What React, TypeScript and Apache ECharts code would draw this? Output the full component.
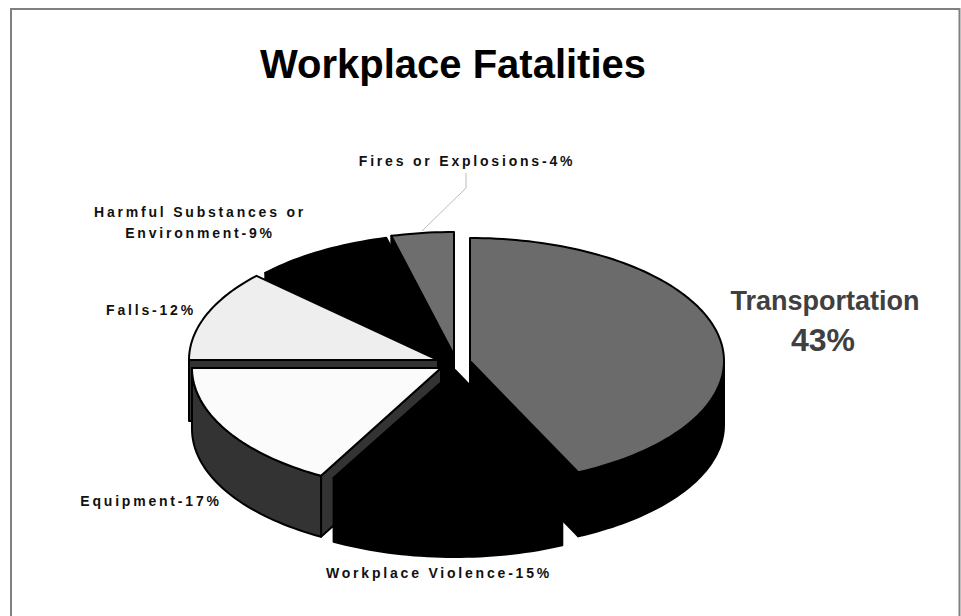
import React, { useEffect, useRef } from "react";
import * as echarts from "echarts";

const categories = ["Transportation", "Workplace Violence", "Equipment", "Falls", "Harmful Substances or Environment", "Fires or Explosions"];
const percents = [43, 15, 17, 12, 9, 4];
const titleText = "Workplace Fatalities";

// Per-slice appearance: top colour, wall colour, exploded centre, radius, wall depth.
const topColors = ["#6b6b6b", "#000000", "#fbfbfb", "#eeeeee", "#000000", "#6e6e6e"];
const wallColors = ["#000000", "#000000", "#333333", "#333333", "#000000", "#000000"];
const centers: [number, number][] = [[470, 361], [455, 370], [441, 368], [438, 360], [449, 357], [454, 355]];
const radiiX = [254, 252, 249, 249, 252, 252];
const depths = [64, 64, 61, 61, 64, 64];
const RY = 123;
const total = percents.reduce((a, b) => a + b, 0);

const startAngle = (i: number) => percents.slice(0, i).reduce((a, b) => a + b, 0) / total * Math.PI * 2;
const rim = (i: number, a: number, dy = 0): [number, number] => [centers[i][0] + radiiX[i] * Math.sin(a), centers[i][1] - RY * Math.cos(a) + dy];
const arc = (i: number, a0: number, a1: number, dy = 0) => {
  const n = Math.max(2, Math.ceil((a1 - a0) / (Math.PI / 120)));
  const pts: [number, number][] = [];
  for (let k = 0; k <= n; k++) pts.push(rim(i, a0 + (a1 - a0) * k / n, dy));
  return pts;
};

const renderItem = (_: any, api: any) => {
  const i = api.value(0) as number;
  const c = centers[i];
  const d = depths[i];
  const a0 = startAngle(i);
  const a1 = a0 + api.value(1) / total * Math.PI * 2;
  const stroke = "#000";
  const wallStyle = { fill: wallColors[i], stroke, lineWidth: 2, lineJoin: "round" };
  const children: any[] = [];
  const face = (a: number) => {
    const p = rim(i, a);
    children.push({ type: "polygon", shape: { points: [c, p, [p[0], p[1] + d], [c[0], c[1] + d]] }, style: wallStyle });
  };
  // Only the radial faces turned towards the viewer are drawn.
  if (a0 > Math.PI) face(a0);
  if (a1 < Math.PI) face(a1);
  const lo = Math.max(a0, Math.PI / 2), hi = Math.min(a1, Math.PI * 1.5);
  if (hi > lo) {
    const top = arc(i, lo, hi);
    const bottom = arc(i, lo, hi, d).reverse();
    children.push({ type: "polygon", shape: { points: [...top, ...bottom] }, style: wallStyle });
  }
  children.push({
    type: "polygon",
    shape: { points: [c, ...arc(i, a0, a1)] },
    style: { fill: topColors[i], stroke, lineWidth: 2, lineJoin: "round" },
  });
  return { type: "group", children };
};

const smallLabel = (text: string, x: number, y: number) => ({
  type: "text", x, y, z: 5,
  style: { text, x: 0, y: 0, align: "center", verticalAlign: "middle", fill: "#111", font: 'bold 14px "Liberation Sans"' },
});

export default function App() {
  const ref = useRef<HTMLDivElement>(null);
  useEffect(() => {
    const chart = echarts.init(ref.current!, null, { renderer: "svg" });
    chart.setOption({
      animation: false,
      backgroundColor: "#fff",
      series: [{
        type: "custom",
        coordinateSystem: "none",
        silent: true,
        clip: false,
        renderItem,
        data: percents.map((p, i) => [i, p]).reverse(),
      }],
      graphic: [
        { type: "polyline", z: 1, shape: { points: [[11, 616], [11, 9], [959.5, 9], [959.5, 616]] }, style: { fill: "none", stroke: "#808080", lineWidth: 2 } },
        { type: "polyline", z: 1, shape: { points: [[466, 173], [466, 188], [422, 231]] }, style: { fill: "none", stroke: "#bbb", lineWidth: 1 } },
        { type: "text", x: 453, y: 64, style: { text: titleText, x: 0, y: 0, align: "center", verticalAlign: "middle", fill: "#000", font: 'bold 40px "Liberation Sans"' } },
        smallLabel(`${categories[5]}-${percents[5]}%`, 467, 161),
        smallLabel("Harmful Substances or", 200, 212),
        smallLabel(`Environment-${percents[4]}%`, 200, 233),
        smallLabel(`${categories[3]}-${percents[3]}%`, 151, 310),
        smallLabel(`${categories[2]}-${percents[2]}%`, 151, 501),
        smallLabel(`${categories[1]}-${percents[1]}%`, 439, 573),
        { type: "text", x: 825, y: 301, style: { text: categories[0], x: 0, y: 0, align: "center", verticalAlign: "middle", fill: "#404040", font: 'bold 27px "Liberation Sans"' } },
        { type: "text", x: 823, y: 340, style: { text: `${percents[0]}%`, x: 0, y: 0, align: "center", verticalAlign: "middle", fill: "#404040", font: 'bold 32px "Liberation Sans"' } },
      ],
    });
    ref.current!.querySelectorAll("text").forEach((t) => {
      const s = t.getAttribute("style") || "";
      if (s.includes("14px")) (t as any).style.letterSpacing = "2.8px";
    });
    return () => chart.dispose();
  }, []);
  return <div ref={ref} style={{ width: 961, height: 616, position: "absolute", left: 0, top: 0 }} />;
}
